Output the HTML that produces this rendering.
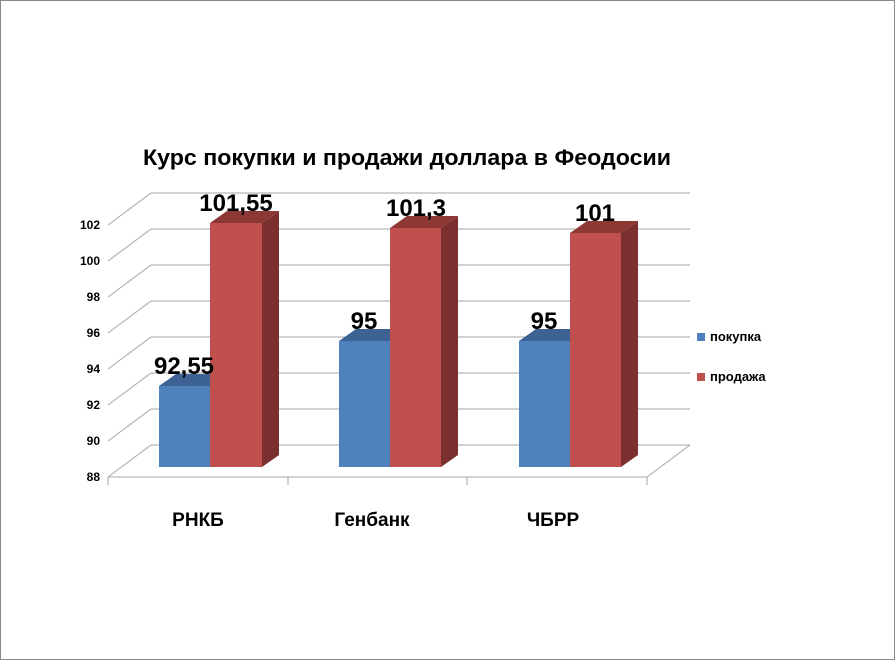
<!DOCTYPE html>
<html><head><meta charset="utf-8"><style>
body{margin:0;background:#fff}
svg{display:block}
text{font-family:"Liberation Sans","DejaVu Sans",sans-serif;font-weight:bold}
</style></head><body>
<svg width="896" height="661" viewBox="0 0 896 661" xmlns="http://www.w3.org/2000/svg">
<rect x="0.5" y="0.5" width="894" height="659" fill="#fff" stroke="#8a8a8a"/>
<text x="407" y="165" font-size="22" text-anchor="middle" fill="#000" textLength="528" lengthAdjust="spacingAndGlyphs">Курс покупки и продажи доллара в Феодосии</text>
<g stroke="#a6a6a6" stroke-width="1" fill="none">
<polyline points="108,477 151,445 690,445"/>
<polyline points="108,441 151,409 690,409"/>
<polyline points="108,405 151,373 690,373"/>
<polyline points="108,369 151,337 690,337"/>
<polyline points="108,333 151,301 690,301"/>
<polyline points="108,297 151,265 690,265"/>
<polyline points="108,261 151,229 690,229"/>
<polyline points="108,225 151,193 690,193"/>
<line x1="647" y1="477" x2="690" y2="445"/>
<line x1="108" y1="477" x2="647" y2="477"/>
<line x1="108" y1="477" x2="108" y2="485"/>
<line x1="288" y1="477" x2="288" y2="485"/>
<line x1="467" y1="477" x2="467" y2="485"/>
<line x1="647" y1="477" x2="647" y2="485"/>
</g>
<g font-size="12" text-anchor="end" fill="#000">
<text x="100" y="481">88</text><text x="100" y="445">90</text><text x="100" y="409">92</text><text x="100" y="373">94</text><text x="100" y="337">96</text><text x="100" y="301">98</text><text x="100" y="265">100</text><text x="100" y="229">102</text>
</g>
<g>
<polygon points="159,386 176,374 227,374 210,386" fill="#3c6394"/>
<rect x="159" y="386" width="51" height="81" fill="#4f81bd"/>
<polygon points="210,223 227,211 279,211 262,223" fill="#8e3836"/>
<polygon points="262,223 279,211 279,455 262,467" fill="#7a302e"/>
<rect x="210" y="223" width="52" height="244" fill="#c0504d"/>
<polygon points="339,341 356,329 407,329 390,341" fill="#3c6394"/>
<rect x="339" y="341" width="51" height="126" fill="#4f81bd"/>
<polygon points="390,228 407,216 458,216 441,228" fill="#8e3836"/>
<polygon points="441,228 458,216 458,455 441,467" fill="#7a302e"/>
<rect x="390" y="228" width="51" height="239" fill="#c0504d"/>
<polygon points="519,341 536,329 587,329 570,341" fill="#3c6394"/>
<rect x="519" y="341" width="51" height="126" fill="#4f81bd"/>
<polygon points="570,233 587,221 638,221 621,233" fill="#8e3836"/>
<polygon points="621,233 638,221 638,455 621,467" fill="#7a302e"/>
<rect x="570" y="233" width="51" height="234" fill="#c0504d"/>
</g>
<g font-size="24" text-anchor="middle" fill="#000">
<text x="184" y="374">92,55</text>
<text x="236" y="211">101,55</text>
<text x="364" y="329">95</text>
<text x="416" y="216">101,3</text>
<text x="595" y="221">101</text>
<text x="544" y="329">95</text>
</g>
<g font-size="19" text-anchor="middle" fill="#000">
<text x="198" y="526">РНКБ</text>
<text x="372" y="526">Генбанк</text>
<text x="553" y="526">ЧБРР</text>
</g>
<rect x="697" y="333" width="8" height="8" fill="#4f81bd"/>
<rect x="697" y="373" width="8" height="8" fill="#c0504d"/>
<g font-size="13" fill="#000">
<text x="710" y="341">покупка</text>
<text x="710" y="381">продажа</text>
</g>
</svg>
</body></html>
